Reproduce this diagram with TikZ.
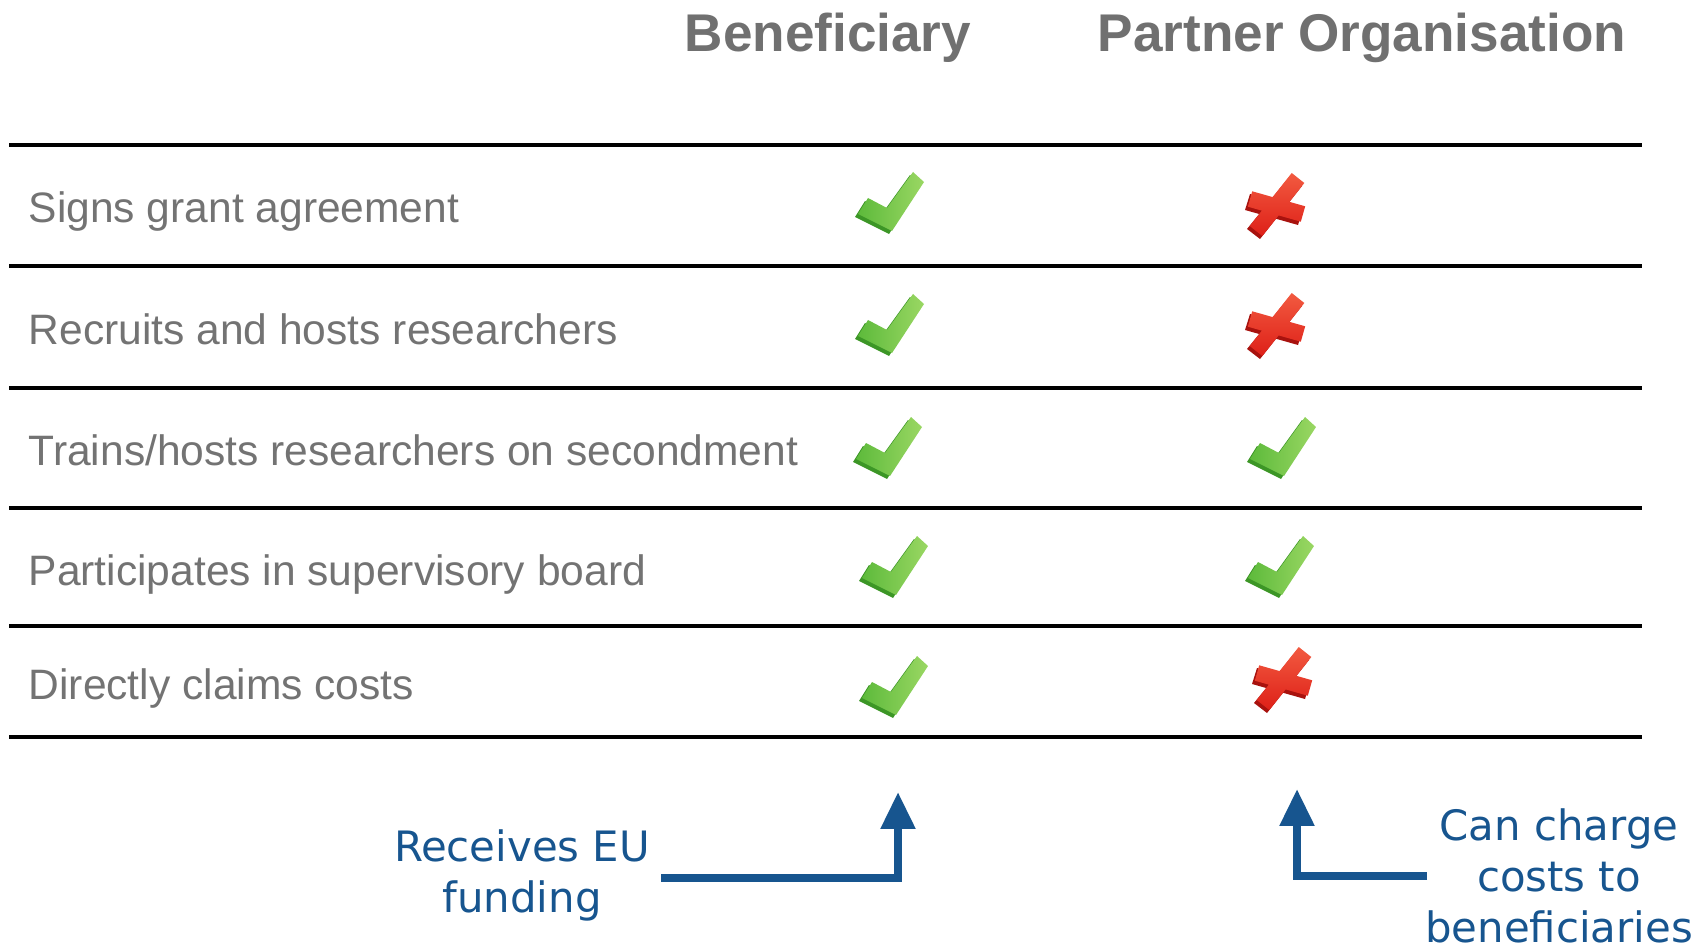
\documentclass[tikz,border=0pt]{standalone}
\usepackage{fontspec}
\setmainfont{Liberation Sans}
\newfontfamily\verdanalike{DejaVu Sans}
\usetikzlibrary{arrows.meta}
\definecolor{hdgray}{HTML}{707070}
\definecolor{labgray}{HTML}{737373}
\definecolor{eublue}{HTML}{17558F}
\definecolor{okdark}{HTML}{3C9626}
\definecolor{okmid}{HTML}{5DBA3B}
\definecolor{oklight}{HTML}{9AD763}
\definecolor{nodark}{HTML}{A8120E}
\definecolor{nomid}{HTML}{DE2018}
\definecolor{nolight}{HTML}{F25A40}
\tikzset{
  hd/.style={inner sep=0, anchor=base, text=hdgray, font=\fontsize{15.1}{18}\selectfont\bfseries},
  lab/.style={inner sep=0, anchor=base west, text=labgray, font=\fontsize{12.1}{14.5}\selectfont},
  note/.style={inner sep=0, anchor=north, align=center, text=eublue, font=\verdanalike\fontsize{11.9}{14.5}\selectfont},
  tabrule/.style={line width=0.9pt, black},
  pointer/.style={eublue, line width=2.3pt, -{Triangle[width=9.4pt,length=10.5pt]}},
  okmark/.pic={
    \fill[okdark] (-36,16) -- (-2,33) -- (30,-16) -- (19,-26) -- (-7,10) -- (-26,0) -- cycle;
    \shade[left color=okmid, right color=oklight] (-33,13) -- (1,30) -- (33,-19) -- (22,-29) -- (-4,7) -- (-23,-3) -- cycle;
  },
  nomark/.pic={
    \fill[nodark] (-17,35) -- (25,-18) -- (13,-28) -- (-30,25) -- cycle
      (-32,6) -- (21,21) -- (26,5) -- (-27,-10) -- cycle;
    \shade[top color=nolight, bottom color=nomid] (-14.7,32) -- (27.3,-21) -- (14.7,-31) -- (-27.3,22) -- cycle
      (-29.2,2.7) -- (23.8,17.7) -- (28.2,2.3) -- (-24.8,-12.7) -- cycle;
  }
}
\begin{document}
\begin{tikzpicture}[x=0.01cm, y=-0.01cm]
\useasboundingbox (0,0) rectangle (1704,946);
\node[hd] (hben) at (828,52) {Beneficiary};
\node[hd] (hpart) at (1362,52) {Partner Organisation};
\draw[tabrule] (9,145) -- (1642,145);
\draw[tabrule] (9,266) -- (1642,266);
\draw[tabrule] (9,388) -- (1642,388);
\draw[tabrule] (9,508) -- (1642,508);
\draw[tabrule] (9,626) -- (1642,626);
\draw[tabrule] (9,737) -- (1642,737);
\node[lab] (lab1) at (28,223) {Signs grant agreement};
\node[lab] (lab2) at (28,344) {Recruits and hosts researchers};
\node[lab] (lab3) at (28,465) {Trains/hosts researchers on secondment};
\node[lab] (lab4) at (28,585) {Participates in supervisory board};
\node[lab] (lab5) at (28,699) {Directly claims costs};
\pic (ben1) at (891,201) {okmark};
\pic (ben2) at (891,323) {okmark};
\pic (ben3) at (889,446) {okmark};
\pic (ben4) at (895,565) {okmark};
\pic (ben5) at (895,685) {okmark};
\pic (part1) at (1277,204) {nomark};
\pic (part2) at (1277,324) {nomark};
\pic (part3) at (1283,446) {okmark};
\pic (part4) at (1281,565) {okmark};
\pic (part5) at (1284,678) {nomark};
\node[note] (fund) at (522,829) {Receives EU\\funding};
\node[note] (charge) at (1559,808) {Can charge\\costs to\\beneficiaries};
\coordinate (fundfoot) at (661,878);
\coordinate (fundtip) at (898,792);
\coordinate (chargefoot) at (1427,876);
\coordinate (chargetip) at (1297,789);
\draw[pointer] (fundfoot) -| (fundtip);
\draw[pointer] (chargefoot) -| (chargetip);
\end{tikzpicture}
\end{document}
